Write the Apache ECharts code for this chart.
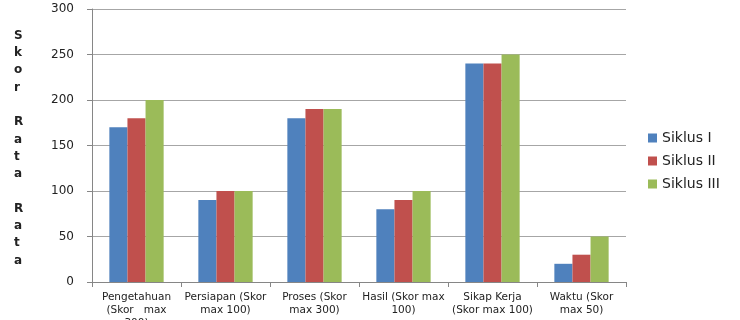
<!DOCTYPE html>
<html>
<head>
<meta charset="utf-8">
<script src="https://cdn.jsdelivr.net/npm/echarts@6/dist/echarts.min.js"></script>
<style>
  html, body { margin: 0; padding: 0; background: #fff; }
  #chart { width: 740px; height: 320px; }
</style>
</head>
<body>
<div id="chart"></div>
<script>
// data
const categories = [
  "Pengetahuan (Skor max 300)",
  "Persiapan (Skor max 100)",
  "Proses (Skor max 300)",
  "Hasil (Skor max 100)",
  "Sikap Kerja (Skor max 100)",
  "Waktu (Skor max 50)",
];
const tickLabels = [
  "Pengetahuan\n(Skor   max\n300)",
  "Persiapan (Skor\nmax 100)",
  "Proses (Skor\nmax 300)",
  "Hasil (Skor max\n100)",
  "Sikap Kerja\n(Skor max 100)",
  "Waktu (Skor\nmax 50)",
];
const siklus1 = [170, 90, 180, 80, 240, 20];
const siklus2 = [180, 100, 190, 90, 240, 30];
const siklus3 = [200, 100, 190, 100, 250, 50];
const seriesNames = ["Siklus I", "Siklus II", "Siklus III"];
const yTitle = "Skor Rata Rata";

const chart = echarts.init(document.getElementById("chart"));

const barSeries = (name, data, color) => ({
  name: name,
  type: "bar",
  data: data,
  barGap: "0%",
  barCategoryGap: "39%",
  itemStyle: { color: color },
});

chart.setOption({
  animation: false,
  textStyle: { fontFamily: "DejaVu Sans, sans-serif" },
  grid: { left: 92, right: 114, top: 9, bottom: 38, outerBoundsMode: "none", containLabel: false },
  legend: {
    orient: "vertical",
    left: 643,
    top: 126,
    itemWidth: 9,
    itemHeight: 9,
    itemGap: 9,
    icon: "rect",
    textStyle: { fontSize: 14, color: "#222" },
    data: seriesNames,
  },
  graphic: [
    {
      type: "text",
      left: 14,
      top: 27,
      style: {
        text: yTitle.split("").join("\n"),
        fontSize: 12,
        fontWeight: "bold",
        lineHeight: 17.3,
        fill: "#222",
        fontFamily: "DejaVu Sans, sans-serif",
      },
    },
  ],
  xAxis: {
    type: "category",
    data: categories,
    axisLine: { lineStyle: { color: "#868686" } },
    axisTick: { show: true, alignWithLabel: false, length: 5, lineStyle: { color: "#868686" } },
    axisLabel: {
      interval: 0,
      fontSize: 10.5,
      color: "#222",
      lineHeight: 13,
      margin: 9,
      formatter: (v, i) => tickLabels[i],
    },
  },
  yAxis: {
    type: "value",
    min: 0,
    max: 300,
    interval: 50,
    axisLine: { show: true, lineStyle: { color: "#868686" } },
    axisTick: { show: true, length: 5, lineStyle: { color: "#868686" } },
    axisLabel: { fontSize: 12, color: "#222", margin: 18 },
    splitLine: { lineStyle: { color: "#a6a6a6" } },
  },
  series: [
    barSeries(seriesNames[0], siklus1, "#4F81BD"),
    barSeries(seriesNames[1], siklus2, "#C0504D"),
    barSeries(seriesNames[2], siklus3, "#9BBB59"),
  ],
});
</script>
</body>
</html>
